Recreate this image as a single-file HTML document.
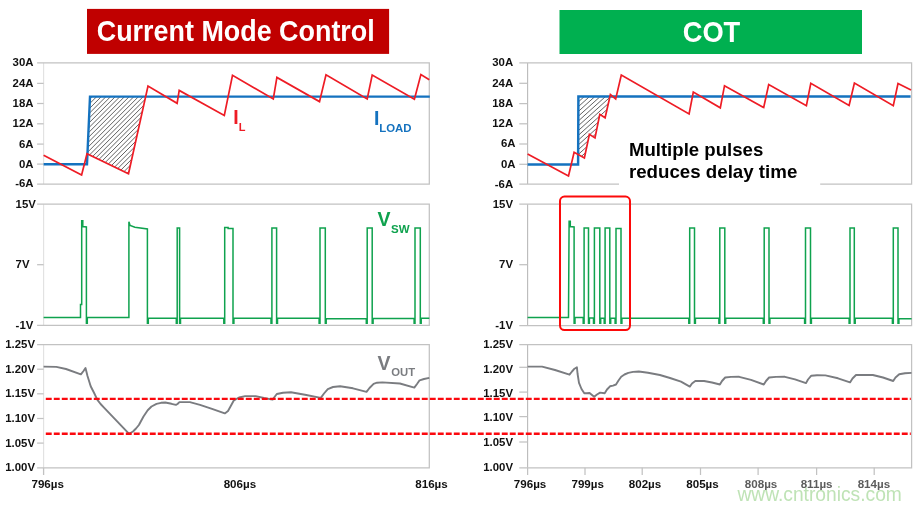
<!DOCTYPE html>
<html><head><meta charset="utf-8"><title>Current Mode Control vs COT</title>
<style>html,body{margin:0;padding:0;background:#fff}body{width:921px;height:509px;overflow:hidden}svg{display:block}text{font-family:"Liberation Sans",sans-serif;font-weight:bold}</style></head><body>
<svg width="921" height="509" viewBox="0 0 921 509">
<rect width="921" height="509" fill="#fff"/>
<rect x="87" y="8.9" width="302.1" height="45" fill="#c00000"/>
<text x="235.75" y="41.3" font-size="30" fill="#fff" text-anchor="middle" textLength="278" lengthAdjust="spacingAndGlyphs">Current Mode Control</text>
<rect x="559.5" y="10" width="302.5" height="44" fill="#00b050"/>
<text x="711.5" y="42.2" font-size="29.5" fill="#fff" text-anchor="middle" textLength="57.6" lengthAdjust="spacingAndGlyphs">COT</text>
<path d="M43.6 62.8V184.1" fill="none" stroke="#e2e2e2" stroke-width="1.15"/>
<path d="M37.1 62.8H429.3V184.1H37.1" fill="none" stroke="#c2c2c2" stroke-width="1.25"/>
<path d="M37.1 83.4H43.6" stroke="#c2c2c2" stroke-width="1.25"/>
<path d="M37.1 103.5H43.6" stroke="#c2c2c2" stroke-width="1.25"/>
<path d="M37.1 123.8H43.6" stroke="#c2c2c2" stroke-width="1.25"/>
<path d="M37.1 144.1H43.6" stroke="#c2c2c2" stroke-width="1.25"/>
<path d="M37.1 164.1H43.6" stroke="#c2c2c2" stroke-width="1.25"/>
<text x="33.5" y="66.2" font-size="11.4" fill="#111" text-anchor="end">30A</text>
<text x="33.5" y="86.8" font-size="11.4" fill="#111" text-anchor="end">24A</text>
<text x="33.5" y="106.9" font-size="11.4" fill="#111" text-anchor="end">18A</text>
<text x="33.5" y="127.2" font-size="11.4" fill="#111" text-anchor="end">12A</text>
<text x="33.5" y="147.5" font-size="11.4" fill="#111" text-anchor="end">6A</text>
<text x="33.5" y="167.5" font-size="11.4" fill="#111" text-anchor="end">0A</text>
<text x="33.5" y="187.3" font-size="11.4" fill="#111" text-anchor="end">-6A</text>
<path d="M43.6 204.2V325.3" fill="none" stroke="#e2e2e2" stroke-width="1.15"/>
<path d="M37.1 204.2H429.3V325.3H37.1" fill="none" stroke="#c2c2c2" stroke-width="1.25"/>
<path d="M37.1 264.7H43.6" stroke="#c2c2c2" stroke-width="1.25"/>
<text x="15.6" y="207.6" font-size="11.4" fill="#111" text-anchor="start">15V</text>
<text x="15.6" y="268.1" font-size="11.4" fill="#111" text-anchor="start">7V</text>
<text x="15.6" y="328.7" font-size="11.4" fill="#111" text-anchor="start">-1V</text>
<path d="M43.6 344.5V467.8" fill="none" stroke="#e2e2e2" stroke-width="1.15"/>
<path d="M37.1 344.5H429.3V467.8H37.1" fill="none" stroke="#c2c2c2" stroke-width="1.25"/>
<path d="M37.1 369.2H43.6" stroke="#c2c2c2" stroke-width="1.25"/>
<path d="M37.1 393.8H43.6" stroke="#c2c2c2" stroke-width="1.25"/>
<path d="M37.1 418.5H43.6" stroke="#c2c2c2" stroke-width="1.25"/>
<path d="M37.1 443.1H43.6" stroke="#c2c2c2" stroke-width="1.25"/>
<text x="35" y="347.9" font-size="11.4" fill="#111" text-anchor="end">1.25V</text>
<text x="35" y="372.6" font-size="11.4" fill="#111" text-anchor="end">1.20V</text>
<text x="35" y="397.2" font-size="11.4" fill="#111" text-anchor="end">1.15V</text>
<text x="35" y="421.9" font-size="11.4" fill="#111" text-anchor="end">1.10V</text>
<text x="35" y="446.5" font-size="11.4" fill="#111" text-anchor="end">1.05V</text>
<text x="35" y="471.2" font-size="11.4" fill="#111" text-anchor="end">1.00V</text>
<path d="M527.6 62.9V184.1" fill="none" stroke="#bcbcbc" stroke-width="1.15"/>
<path d="M519.3000000000001 62.9H911.6V184.1H519.3000000000001" fill="none" stroke="#c2c2c2" stroke-width="1.25"/>
<path d="M519.3000000000001 83.3H527.6" stroke="#c2c2c2" stroke-width="1.25"/>
<path d="M519.3000000000001 103.6H527.6" stroke="#c2c2c2" stroke-width="1.25"/>
<path d="M519.3000000000001 123.8H527.6" stroke="#c2c2c2" stroke-width="1.25"/>
<path d="M519.3000000000001 144.0H527.6" stroke="#c2c2c2" stroke-width="1.25"/>
<path d="M519.3000000000001 164.3H527.6" stroke="#c2c2c2" stroke-width="1.25"/>
<text x="513.2" y="66.3" font-size="11.4" fill="#111" text-anchor="end">30A</text>
<text x="513.2" y="86.7" font-size="11.4" fill="#111" text-anchor="end">24A</text>
<text x="513.2" y="107.0" font-size="11.4" fill="#111" text-anchor="end">18A</text>
<text x="513.2" y="127.2" font-size="11.4" fill="#111" text-anchor="end">12A</text>
<text x="515.5" y="147.4" font-size="11.4" fill="#111" text-anchor="end">6A</text>
<text x="515.5" y="167.7" font-size="11.4" fill="#111" text-anchor="end">0A</text>
<text x="513.2" y="187.5" font-size="11.4" fill="#111" text-anchor="end">-6A</text>
<path d="M527.6 204.2V325.5" fill="none" stroke="#bcbcbc" stroke-width="1.15"/>
<path d="M519.3000000000001 204.2H911.6V325.5H519.3000000000001" fill="none" stroke="#c2c2c2" stroke-width="1.25"/>
<path d="M519.3000000000001 264.7H527.6" stroke="#c2c2c2" stroke-width="1.25"/>
<text x="513" y="207.6" font-size="11.4" fill="#111" text-anchor="end">15V</text>
<text x="513" y="268.1" font-size="11.4" fill="#111" text-anchor="end">7V</text>
<text x="513" y="328.7" font-size="11.4" fill="#111" text-anchor="end">-1V</text>
<path d="M527.6 344.6V467.8" fill="none" stroke="#bcbcbc" stroke-width="1.15"/>
<path d="M519.3000000000001 344.6H911.6V467.8H519.3000000000001" fill="none" stroke="#c2c2c2" stroke-width="1.25"/>
<path d="M519.3000000000001 367.3H527.6" stroke="#c2c2c2" stroke-width="1.25"/>
<path d="M519.3000000000001 392.1H527.6" stroke="#c2c2c2" stroke-width="1.25"/>
<path d="M519.3000000000001 416.6H527.6" stroke="#c2c2c2" stroke-width="1.25"/>
<path d="M519.3000000000001 442.0H527.6" stroke="#c2c2c2" stroke-width="1.25"/>
<text x="513" y="348.0" font-size="11.4" fill="#111" text-anchor="end">1.25V</text>
<text x="513" y="372.6" font-size="11.4" fill="#111" text-anchor="end">1.20V</text>
<text x="513" y="396.8" font-size="11.4" fill="#111" text-anchor="end">1.15V</text>
<text x="513" y="421.1" font-size="11.4" fill="#111" text-anchor="end">1.10V</text>
<text x="513" y="446.2" font-size="11.4" fill="#111" text-anchor="end">1.05V</text>
<text x="513" y="471.0" font-size="11.4" fill="#111" text-anchor="end">1.00V</text>
<path d="M43.6 467.8V475" stroke="#c2c2c2" stroke-width="1.3"/>
<path d="M527.6 467.8V475" stroke="#c2c2c2" stroke-width="1.25"/>
<path d="M585.0 467.8V475" stroke="#c2c2c2" stroke-width="1.25"/>
<path d="M642.2 467.8V475" stroke="#c2c2c2" stroke-width="1.25"/>
<path d="M700.5 467.8V475" stroke="#c2c2c2" stroke-width="1.25"/>
<path d="M758.1 467.8V475" stroke="#c2c2c2" stroke-width="1.25"/>
<path d="M816.6 467.8V475" stroke="#c2c2c2" stroke-width="1.25"/>
<path d="M874.2 467.8V475" stroke="#c2c2c2" stroke-width="1.25"/>
<text x="47.7" y="488.3" font-size="11.6" fill="#111" text-anchor="middle">796µs</text>
<text x="239.9" y="488.3" font-size="11.6" fill="#111" text-anchor="middle">806µs</text>
<text x="431.5" y="488.3" font-size="11.6" fill="#111" text-anchor="middle">816µs</text>
<text x="530.1" y="488.3" font-size="11.6" fill="#111" text-anchor="middle">796µs</text>
<text x="587.7" y="488.3" font-size="11.6" fill="#111" text-anchor="middle">799µs</text>
<text x="645.0" y="488.3" font-size="11.6" fill="#111" text-anchor="middle">802µs</text>
<text x="702.5" y="488.3" font-size="11.6" fill="#111" text-anchor="middle">805µs</text>
<text x="761.1" y="488.3" font-size="11.6" fill="#5c5c5c" text-anchor="middle">808µs</text>
<text x="816.6" y="488.3" font-size="11.6" fill="#5c5c5c" text-anchor="middle">811µs</text>
<text x="873.9" y="488.3" font-size="11.6" fill="#5c5c5c" text-anchor="middle">814µs</text>
<clipPath id="cl"><polygon points="90.0,96.6 145.5,96.6 128.5,173.8 87.4,153.9"/></clipPath><path d="M5.55 173.8L82.75 96.6M10.20 173.8L87.40 96.6M14.85 173.8L92.05 96.6M19.50 173.8L96.70 96.6M24.15 173.8L101.35 96.6M28.80 173.8L106.00 96.6M33.45 173.8L110.65 96.6M38.10 173.8L115.30 96.6M42.75 173.8L119.95 96.6M47.40 173.8L124.60 96.6M52.05 173.8L129.25 96.6M56.70 173.8L133.90 96.6M61.35 173.8L138.55 96.6M66.00 173.8L143.20 96.6M70.65 173.8L147.85 96.6M75.30 173.8L152.50 96.6M79.95 173.8L157.15 96.6M84.60 173.8L161.80 96.6M89.25 173.8L166.45 96.6M93.90 173.8L171.10 96.6M98.55 173.8L175.75 96.6M103.20 173.8L180.40 96.6M107.85 173.8L185.05 96.6M112.50 173.8L189.70 96.6M117.15 173.8L194.35 96.6M121.80 173.8L199.00 96.6M126.45 173.8L203.65 96.6M131.10 173.8L208.30 96.6M135.75 173.8L212.95 96.6M140.40 173.8L217.60 96.6M145.05 173.8L222.25 96.6M149.70 173.8L226.90 96.6" clip-path="url(#cl)" stroke="#2e2e2e" stroke-width="0.75" fill="none"/>
<polyline points="43.6,164.2 87.0,164.2 90.0,96.6 429.8,96.6" fill="none" stroke="#1472bf" stroke-width="2.4" stroke-linejoin="miter"/>
<polyline points="43.6,155.2 81.6,175.0 87.0,153.7 128.5,173.8 148.0,86.0 177.1,103.3 179.2,90.4 224.3,115.4 232.5,75.3 273.3,98.9 276.9,77.4 319.5,101.6 326.0,74.7 367.2,98.9 372.2,75.0 414.4,99.2 420.9,74.5 429.3,79.8" fill="none" stroke="#ee1c25" stroke-width="1.7" stroke-linejoin="miter"/>
<text x="233.2" y="123.7" font-size="19.5" fill="#ee1c25">I</text><text x="238.8" y="130.7" font-size="11" fill="#ee1c25">L</text>
<text x="374" y="125" font-size="19.5" fill="#1472bf">I</text><text x="379.2" y="131.5" font-size="11.4" fill="#1472bf">LOAD</text>
<clipPath id="cr"><polygon points="578.8,96.9 610.0,96.9 605.1,117.8 599.8,114.3 595.0,137.9 589.4,134.3 584.4,157.9 578.6,154.6"/></clipPath><path d="M505.52 157.9L573.30 96.9M510.82 157.9L578.60 96.9M516.12 157.9L583.90 96.9M521.42 157.9L589.20 96.9M526.72 157.9L594.50 96.9M532.02 157.9L599.80 96.9M537.32 157.9L605.10 96.9M542.62 157.9L610.40 96.9M547.92 157.9L615.70 96.9M553.22 157.9L621.00 96.9M558.52 157.9L626.30 96.9M563.82 157.9L631.60 96.9M569.12 157.9L636.90 96.9M574.42 157.9L642.20 96.9M579.72 157.9L647.50 96.9M585.02 157.9L652.80 96.9M590.32 157.9L658.10 96.9M595.62 157.9L663.40 96.9M600.92 157.9L668.70 96.9M606.22 157.9L674.00 96.9M611.52 157.9L679.30 96.9" clip-path="url(#cr)" stroke="#2e2e2e" stroke-width="0.75" fill="none"/>
<polyline points="527.6,164.4 578.1,164.4 578.4,96.5 910.6,96.5" fill="none" stroke="#1472bf" stroke-width="2.45" stroke-linejoin="miter"/>
<polyline points="527.6,154.1 568.5,175.9 574.1,152.3 584.4,157.9 589.4,134.3 595.0,137.9 599.8,114.3 605.1,117.8 610.4,94.5 615.7,99.0 621.3,75.1 689.1,114.0 693.3,92.1 720.3,107.8 724.5,85.7 763.7,107.5 768.7,84.5 806.4,105.7 810.8,83.3 849.1,105.4 854.4,83.0 893.3,105.7 898.0,83.6 911.0,90.1" fill="none" stroke="#ee1c25" stroke-width="1.7" stroke-linejoin="miter"/>
<rect x="619" y="135" width="201.2" height="52" fill="#fff"/>
<text x="628.9" y="155.5" font-size="19" fill="#000" textLength="134.4" lengthAdjust="spacingAndGlyphs">Multiple pulses</text>
<text x="628.9" y="178" font-size="19" fill="#000" textLength="168.4" lengthAdjust="spacingAndGlyphs">reduces delay time</text>
<path d="M43.6 317.4H80.5L80.5 304.5L81.7 304.5L81.7 220.7L82.8 220.7L82.8 226.6L86.4 226.9L86.4 323.3H87.3V317.6H128.9L128.9 221.8L130.1 225.5L134.9 227.3L147.4 228.9L147.4 323.3H148.3V318.3H176.3V323.3H177.2L177.2 228.1L179.6 228.1L179.6 323.3H180.5V318.3H223.8V323.3H224.7L224.7 227.4L228.1 227.4L228.1 228.4L233.0 228.4L233.0 323.3H233.9V318.3H271.0V323.3H271.9L271.9 228.1L276.6 228.1L276.6 323.3H277.5V318.3H319.1V323.3H320.0L320.0 228.1L325.3 228.1L325.3 323.3H326.2V318.8H366.3V323.3H367.2L367.2 228.1L372.2 228.1L372.2 323.3H373.1V318.6H414.1V323.3H415.0L415.0 228.1L420.3 228.1L420.3 323.3H421.2V318.3H429.3" fill="none" stroke="#0fa24e" stroke-width="1.5" stroke-linejoin="miter"/>
<text x="377.6" y="226" font-size="19.5" fill="#0fa24e">V</text><text x="391" y="232.5" font-size="11.5" fill="#0fa24e">SW</text>
<path d="M527.6 317.4H568.5L569.1 221.3L570.3 221.3L570.3 226.6L574.1 226.9L574.1 323.3H575.0V317.6H583.2V323.3H584.1L584.1 228.1L588.5 228.1L588.5 323.3H589.4V318.0H593.5V323.3H594.4L594.4 228.1L599.8 228.1L599.8 323.3H600.7V318.2H604.2V323.3H605.1L605.1 228.1L609.8 228.1L609.8 323.3H610.7V318.2H615.1V323.3H616.0L616.0 228.6L621.0 228.6L621.0 323.3H621.9V318.3H688.8V323.3H689.7L689.7 228.1L694.5 228.1L694.5 323.3H695.4V318.3H718.9V323.3H719.8L719.8 228.1L724.8 228.1L724.8 323.3H725.7V318.3H763.3V323.3H764.2L764.2 228.1L769.0 228.1L769.0 323.3H769.9V318.3H804.6V323.3H805.5L805.5 228.1L810.5 228.1L810.5 323.3H811.4V318.3H849.1V323.3H850.0L850.0 228.1L854.3 228.1L854.3 323.3H855.2V318.3H892.4V323.3H893.3L893.3 228.1L898.0 228.1L898.0 323.3H898.9V318.8H911.6" fill="none" stroke="#0fa24e" stroke-width="1.5" stroke-linejoin="miter"/>
<rect x="560" y="196.6" width="70" height="133.4" rx="4.5" ry="4.5" fill="none" stroke="#fc0a0a" stroke-width="2"/>
<polyline points="43.6,366.6 56.3,366.9 66.0,369.0 80.9,374.3 83.5,371.0 85.5,368.0 87.5,376.0 90.7,386.3 94.5,393.8 97.4,399.8 100.6,404.0 104.0,407.6 129.1,433.8 133.0,431.5 136.0,428.5 138.9,425.0 143.5,416.5 147.7,410.2 151.5,406.5 156.5,403.9 161.0,402.8 165.3,402.5 171.5,403.8 175.9,404.9 177.5,404.0 179.4,402.1 189.9,402.1 200.0,404.8 212.0,408.8 224.8,413.4 228.0,411.0 230.5,406.5 233.9,400.3 239.0,397.5 245.2,396.1 255.7,396.1 264.0,398.0 272.6,399.6 274.5,397.0 276.8,394.0 283.0,392.7 290.9,392.3 305.0,394.8 320.8,397.9 324.0,393.5 327.8,389.1 333.0,387.0 340.1,386.3 353.0,388.3 366.5,391.9 369.5,388.0 373.6,383.8 377.0,382.7 382.4,382.4 399.9,383.5 414.3,387.6 417.0,384.0 419.6,380.3 424.0,379.0 429.3,377.9" fill="none" stroke="#7a7c80" stroke-width="1.9" stroke-linejoin="round"/>
<polyline points="527.6,366.6 542.1,366.6 555.0,370.0 569.5,374.7 572.0,371.5 574.5,368.7 576.9,367.3 577.6,374.0 579.0,382.8 581.5,389.0 584.3,393.3 587.0,393.3 589.6,393.0 592.0,395.0 594.2,396.8 597.0,394.5 600.1,392.6 604.7,393.3 607.0,389.5 610.0,386.3 613.0,385.6 616.0,384.5 618.5,380.5 621.2,376.8 624.5,374.5 628.3,372.9 633.0,371.9 638.8,371.5 648.0,372.7 659.9,375.0 670.0,378.0 681.0,381.7 689.8,386.6 692.0,383.5 695.3,381.0 704.1,381.0 712.0,382.5 719.9,384.5 722.0,381.0 725.2,377.5 731.0,376.9 739.2,376.8 751.0,379.8 763.8,384.5 766.0,381.0 769.1,377.5 776.0,376.9 784.9,376.8 795.0,379.3 806.0,383.1 808.0,379.5 811.3,375.7 817.0,375.3 825.4,375.4 838.0,378.3 850.0,382.4 852.5,378.5 856.0,375.0 872.8,375.0 883.0,377.5 893.2,381.0 895.5,377.5 899.2,374.3 905.0,373.3 911.5,372.9" fill="none" stroke="#7a7c80" stroke-width="1.9" stroke-linejoin="round"/>
<text x="377.6" y="369.9" font-size="19.5" fill="#7a7c80">V</text><text x="391.2" y="375.8" font-size="11.3" fill="#7a7c80">OUT</text>
<path d="M45.8 398.9H910.8M45.8 433.8H910.8" fill="none" stroke="#fb080e" stroke-width="2.4" stroke-dasharray="5.9 2.1"/>
<text x="737.4" y="500.7" font-size="19.3" fill="#bfe3b6" style="font-weight:normal" textLength="164.5" lengthAdjust="spacingAndGlyphs">www.cntronics.com</text>
</svg></body></html>
